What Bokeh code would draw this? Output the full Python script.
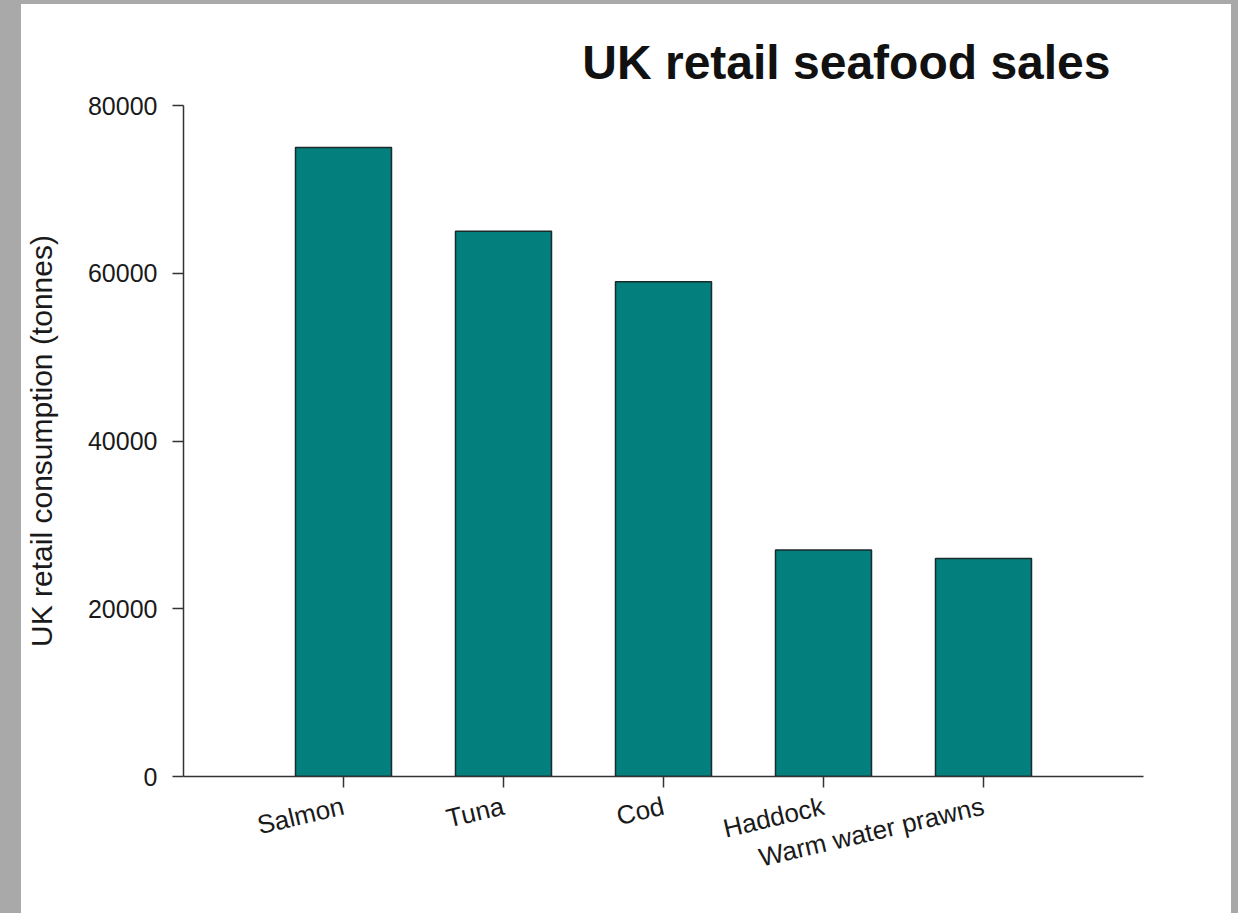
from bokeh.plotting import figure
from bokeh.models import FactorRange, Range1d, FixedTicker, ColumnDataSource, NumeralTickFormatter
from bokeh.layouts import column
from bokeh.embed import file_html
from bokeh.resources import INLINE

# ---- data ----
species = ["Salmon", "Tuna", "Cod", "Haddock", "Warm water prawns"]
tonnes = [75000, 65000, 59000, 27000, 26000]
y_ticks = [0, 20000, 40000, 60000, 80000]
title_text = "UK retail seafood sales"
y_label = "UK retail consumption (tonnes)"

src = ColumnDataSource(dict(species=species, tonnes=tonnes))

FONT = "Liberation Sans"
TXT = "#1a1a1a"

p = figure(
    width=1210, height=909,
    x_range=FactorRange(factors=species, range_padding=0.5, range_padding_units="absolute"),
    y_range=Range1d(0, 80000),
    output_backend="svg", toolbar_location=None,
    title=title_text,
    min_border_left=161, min_border_right=88, min_border_top=101, min_border_bottom=137,
)
p.margin = (4, 7, 0, 21)
p.styles = {"background-color": "white"}

p.vbar(x="species", top="tonnes", width=0.6, source=src,
       fill_color="#037f7e", line_color="#1b2a2a", line_width=1.5)

p.grid.visible = False
p.outline_line_color = None
p.background_fill_color = "white"
p.border_fill_color = "white"

p.title.align = "right"
p.title.offset = 33
p.title.standoff = 34
p.title.text_font = FONT
p.title.text_font_size = "48px"
p.title.text_font_style = "bold"
p.title.text_color = "#111111"

for ax in (p.xaxis[0], p.yaxis[0]):
    ax.axis_line_color = "#333333"
    ax.axis_line_width = 1.5
    ax.major_tick_line_color = "#333333"
    ax.major_tick_line_width = 1.5
    ax.major_tick_out = 11
    ax.major_tick_in = 0
    ax.minor_tick_line_color = None
    ax.major_label_text_font = FONT
    ax.major_label_text_color = TXT

xa = p.xaxis[0]
xa.major_label_orientation = 0.23
xa.major_label_text_font_size = "26px"
xa.major_label_standoff = 18

ya = p.yaxis[0]
ya.ticker = FixedTicker(ticks=y_ticks, minor_ticks=[])
ya.formatter = NumeralTickFormatter(format="0")
ya.major_label_text_font_size = "25px"
ya.major_label_standoff = 15
ya.axis_label = y_label
ya.axis_label_text_font = FONT
ya.axis_label_text_font_size = "30px"
ya.axis_label_text_font_style = "normal"
ya.axis_label_text_color = TXT
ya.axis_label_standoff = 27

root = column(p, styles={"background-color": "#a9a9a9"})

open("out.html", "w").write(file_html(root, INLINE))
